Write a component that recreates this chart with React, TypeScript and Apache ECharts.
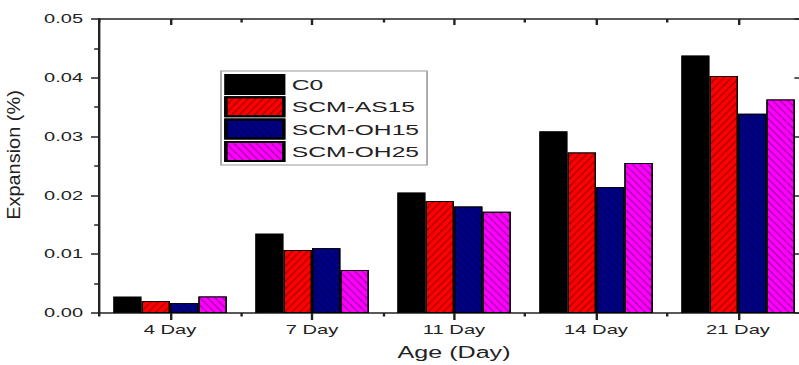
import React, { useEffect, useRef } from "react";
import * as echarts from "echarts";

const categories = ["4 Day", "7 Day", "11 Day", "14 Day", "21 Day"];
const seriesNames = ["C0", "SCM-AS15", "SCM-OH15", "SCM-OH25"];
const c0 = [0.0028, 0.0135, 0.0205, 0.0309, 0.0438];
const as15 = [0.002, 0.0107, 0.019, 0.0273, 0.0403];
const oh15 = [0.0017, 0.011, 0.0181, 0.0214, 0.0339];
const oh25 = [0.0028, 0.0073, 0.0172, 0.0255, 0.0363];

const S = 1.6; // horizontal stretch of the reference
const FONT = "Liberation Sans, Arial, sans-serif";
const AX = "#222";

export default function App() {
  const ref = useRef<HTMLDivElement>(null);
  useEffect(() => {
    if (!ref.current) return;
    const chart = echarts.init(ref.current, null, { renderer: "svg" });
    const hatch = (rot: number, color: string) => ({
      symbol: "rect",
      symbolSize: 1,
      dashArrayX: [1, 0],
      dashArrayY: [0.9, 2.6],
      rotation: rot,
      color,
    });
    const base = {
      type: "bar" as const,
      barGap: "0%",
      barCategoryGap: "20%",
      xAxisIndex: 0,
      yAxisIndex: 0,
    };
    const option: any = {
      animation: false,
      backgroundColor: "#fff",
      grid: { left: 99 / S, top: 19, width: 710 / S, bottom: 51, containLabel: false },
      legend: {
        orient: "vertical",
        left: 221 / S,
        top: 71,
        padding: [3, 5, 3, 2],
        itemWidth: 58 / S,
        itemHeight: 19,
        itemGap: 1.3,
        borderColor: "#999",
        borderWidth: 1,
        textStyle: { fontFamily: FONT, fontSize: 15.4, color: AX, padding: [0, 0, 0, 0] },
        data: seriesNames,
        icon: "rect",
      },
      xAxis: [
        {
          type: "category",
          data: categories,
          position: "bottom",
          axisLine: { show: true, lineStyle: { color: AX, width: 1.5 } },
          axisTick: { show: true, alignWithLabel: true, length: 7, inside: false, lineStyle: { color: AX, width: 1.5 } },
          axisLabel: { fontFamily: FONT, fontSize: 12.6, color: AX, margin: 10 },
          name: "Age (Day)",
          nameLocation: "middle",
          nameGap: 31,
          nameTextStyle: { fontFamily: FONT, fontSize: 15.7, color: AX },
        },
        {
          type: "category",
          data: categories,
          position: "bottom",
          axisLine: { show: false },
          axisTick: { show: true, alignWithLabel: false, length: 3.5, lineStyle: { color: AX, width: 1.5 } },
          axisLabel: { show: false },
        },
        {
          type: "category",
          data: categories,
          position: "top",
          axisLine: { show: true, lineStyle: { color: AX, width: 1.5 } },
          axisTick: { show: true, alignWithLabel: true, inside: true, length: 6, lineStyle: { color: AX, width: 1.5 } },
          axisLabel: { show: false },
        },
        {
          type: "category",
          data: categories,
          position: "top",
          axisLine: { show: false },
          axisTick: { show: true, alignWithLabel: false, inside: true, length: 3.5, lineStyle: { color: AX, width: 1.5 } },
          axisLabel: { show: false },
        },
      ],
      yAxis: [
        {
          type: "value",
          min: 0,
          max: 0.05,
          interval: 0.01,
          axisLine: { show: true, lineStyle: { color: AX, width: 1.5 } },
          axisTick: { show: true, length: 5, lineStyle: { color: AX, width: 1.5 } },
          minorTick: { show: true, splitNumber: 2, length: 3, lineStyle: { color: AX, width: 1.5 } },
          splitLine: { show: false },
          axisLabel: {
            fontFamily: FONT,
            fontSize: 12.5,
            color: AX,
            margin: 10,
            formatter: (v: number) => v.toFixed(2),
          },
        },
        {
          type: "value",
          min: 0,
          max: 0.05,
          interval: 0.01,
          position: "right",
          offset: -(809 - 800) / S,
          axisLine: { show: false },
          axisTick: { show: true, inside: true, length: 3.5, lineStyle: { color: AX, width: 1.5 } },
          splitLine: { show: false },
          axisLabel: { show: false },
        },
      ],
      graphic: [
        {
          type: "text",
          x: 14 / S,
          y: 155,
          rotation: Math.PI / 2,
          scaleX: 1.72,
          style: {
            text: "Expansion (%)",
            fontFamily: FONT,
            fontSize: 11.6,
            fill: AX,
            align: "center",
            verticalAlign: "middle",
            textAlign: "center",
            textVerticalAlign: "middle",
          },
        },
      ],
      series: [
        {
          ...base,
          name: seriesNames[0],
          data: c0,
          itemStyle: { color: "#000000", borderColor: "#000", borderWidth: 0.8 },
        },
        {
          ...base,
          name: seriesNames[1],
          data: as15,
          itemStyle: {
            color: "#ff0000",
            borderColor: "#000",
            borderWidth: 0.8,
            decal: hatch(-1.01, "rgba(110,0,0,0.6)"),
          },
        },
        {
          ...base,
          name: seriesNames[2],
          data: oh15,
          itemStyle: {
            color: "#000085",
            borderColor: "#000",
            borderWidth: 0.8,
            decal: hatch(1.01, "rgba(0,0,50,0.45)"),
          },
        },
        {
          ...base,
          name: seriesNames[3],
          data: oh25,
          itemStyle: {
            color: "#ff00ff",
            borderColor: "#000",
            borderWidth: 0.8,
            decal: hatch(1.01, "rgba(110,0,110,0.6)"),
          },
        },
      ],
    };
    chart.setOption(option);
    return () => chart.dispose();
  }, []);

  return (
    <div
      style={{
        position: "fixed",
        left: 0,
        top: 0,
        width: 799,
        height: 365,
        overflow: "hidden",
        background: "#fff",
      }}
    >
      <div
        ref={ref}
        style={{
          width: 520,
          height: 365,
          transform: `scaleX(${S})`,
          transformOrigin: "0 0",
        }}
      />
    </div>
  );
}
